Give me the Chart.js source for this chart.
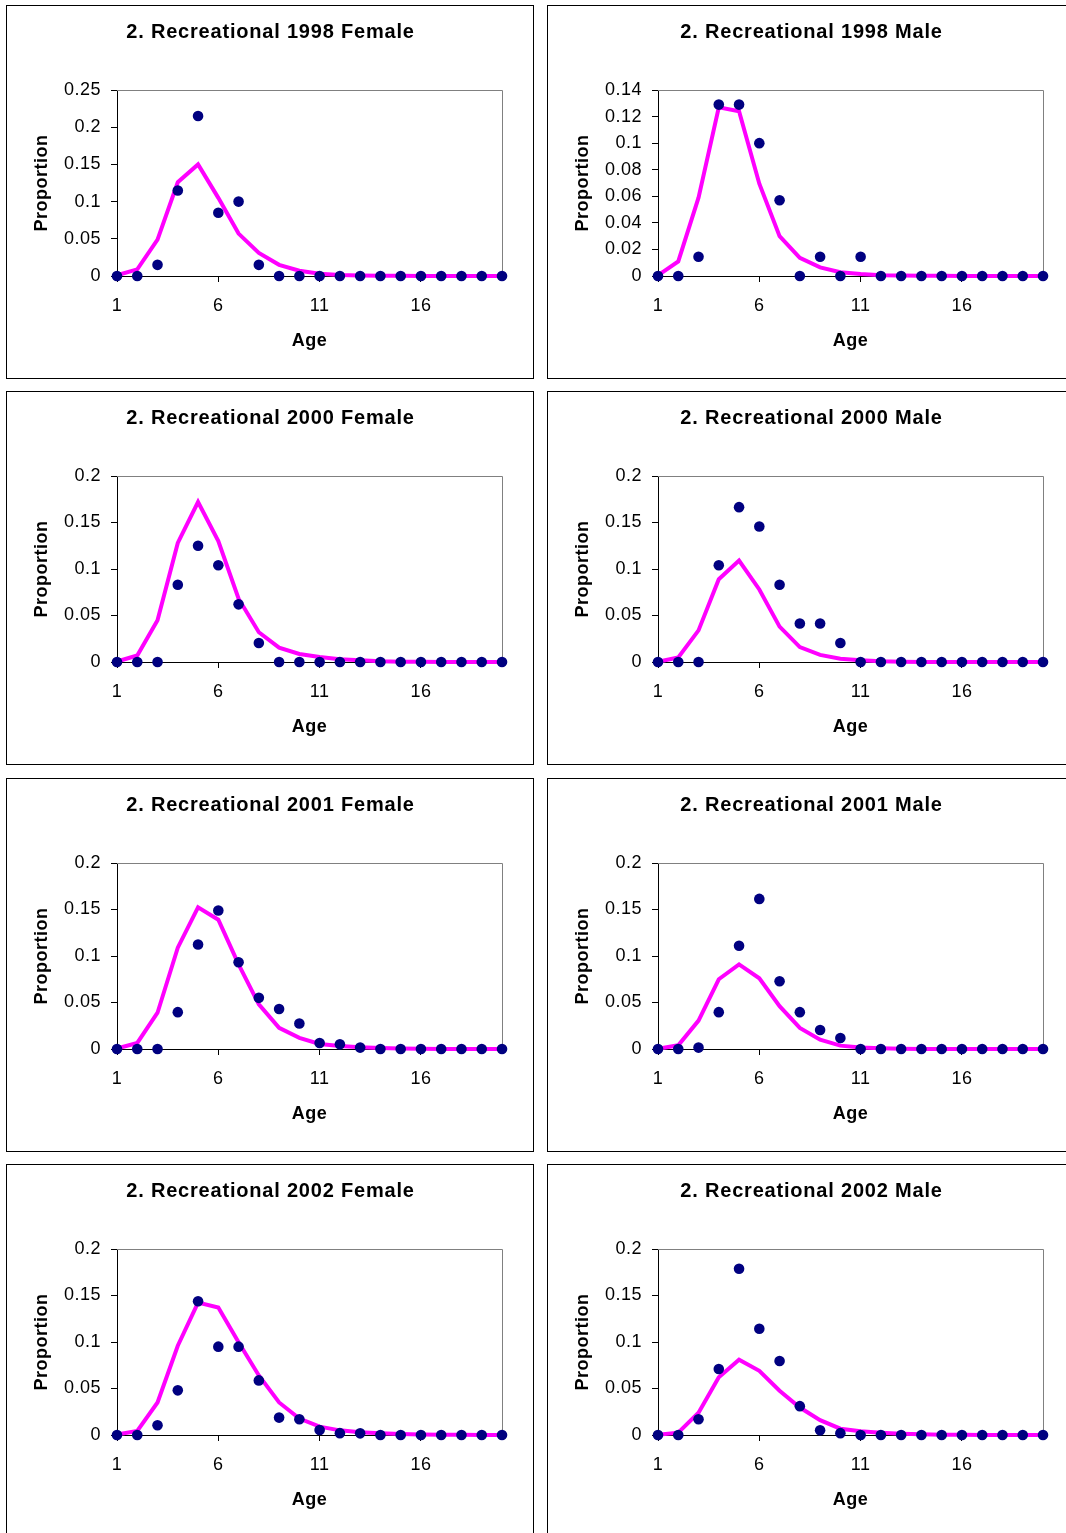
<!DOCTYPE html>
<html>
<head>
<meta charset="utf-8">
<title>Recreational age composition</title>
<script src="https://cdn.jsdelivr.net/npm/chart.js@4/dist/chart.umd.min.js"></script>
<style>
  html, body { margin: 0; padding: 0; background: #fff; overflow: hidden; width: 1066px; height: 1533px; }
  .panel { position: absolute; box-sizing: border-box; width: 528px; height: 374px; border: 1px solid #000; background: #fff; }
  .panel canvas { position: absolute; left: 0; top: 0; }
</style>
</head>
<body>
<script>
// Ages on the x axis and the labelled ticks
const ages = [1, 2, 3, 4, 5, 6, 7, 8, 9, 10, 11, 12, 13, 14, 15, 16, 17, 18, 19, 20];
const xTicks = [1, 6, 11, 16];

// Y tick sets
const yTicks025 = [0, 0.05, 0.1, 0.15, 0.2, 0.25];
const yTicks014 = [0, 0.02, 0.04, 0.06, 0.08, 0.1, 0.12, 0.14];
const yTicks020 = [0, 0.05, 0.1, 0.15, 0.2];

// Observed proportions at age (dots) and fitted proportions (line)
const obs1998F = [0, 0, 0.015, 0.115, 0.215, 0.085, 0.1, 0.015, 0, 0, 0, 0, 0, 0, 0, 0, 0, 0, 0, 0];
const fit1998F = [0.001, 0.009, 0.049, 0.126, 0.150, 0.105, 0.057, 0.031, 0.015, 0.007, 0.003, 0.0015, 0.0008, 0.0004, 0.0002, 0.0001, 0.0001, 0, 0, 0];

const obs1998M = [0, 0, 0.0145, 0.129, 0.129, 0.1, 0.057, 0, 0.0145, 0, 0.0145, 0, 0, 0, 0, 0, 0, 0, 0, 0];
const fit1998M = [0.0005, 0.011, 0.059, 0.127, 0.124, 0.0695, 0.030, 0.0136, 0.0065, 0.0028, 0.0015, 0.0006, 0.0003, 0.0001, 0.0001, 0, 0, 0, 0, 0];

const obs2000F = [0, 0, 0, 0.083, 0.125, 0.104, 0.062, 0.0205, 0, 0, 0, 0, 0, 0, 0, 0, 0, 0, 0, 0];
const fit2000F = [0.0005, 0.007, 0.045, 0.128, 0.172, 0.130, 0.068, 0.032, 0.0155, 0.0086, 0.0054, 0.003, 0.0018, 0.0008, 0.0004, 0.0002, 0.0001, 0.0001, 0, 0];

const obs2000M = [0, 0, 0, 0.104, 0.1665, 0.1457, 0.083, 0.0414, 0.0414, 0.0205, 0, 0, 0, 0, 0, 0, 0, 0, 0, 0];
const fit2000M = [0.0003, 0.005, 0.034, 0.089, 0.109, 0.078, 0.038, 0.016, 0.0076, 0.0036, 0.0018, 0.0007, 0.0003, 0.0001, 0.0001, 0, 0, 0, 0, 0];

const obs2001F = [0, 0, 0, 0.0396, 0.1124, 0.149, 0.0933, 0.055, 0.043, 0.0274, 0.0065, 0.005, 0.0015, 0, 0, 0, 0, 0, 0, 0];
const fit2001F = [0.0005, 0.0065, 0.039, 0.109, 0.1524, 0.139, 0.091, 0.048, 0.0227, 0.012, 0.0054, 0.0032, 0.0018, 0.001, 0.0005, 0.0003, 0.0001, 0.0001, 0, 0];

const obs2001M = [0, 0, 0.0015, 0.0396, 0.111, 0.1614, 0.0728, 0.0396, 0.0205, 0.0119, 0, 0, 0, 0, 0, 0, 0, 0, 0, 0];
const fit2001M = [0.0003, 0.004, 0.0306, 0.075, 0.091, 0.076, 0.046, 0.0227, 0.010, 0.0036, 0.0015, 0.0007, 0.0003, 0.0001, 0.0001, 0, 0, 0, 0, 0];

const obs2002F = [0, 0, 0.0105, 0.048, 0.1438, 0.095, 0.095, 0.0587, 0.0187, 0.0169, 0.0054, 0.002, 0.0018, 0, 0, 0, 0, 0, 0, 0];
const fit2002F = [0.0005, 0.0043, 0.035, 0.096, 0.1423, 0.137, 0.0998, 0.064, 0.035, 0.0177, 0.009, 0.005, 0.0029, 0.0018, 0.001, 0.0006, 0.0003, 0.0002, 0.0001, 0.0001];

const obs2002M = [0, 0, 0.0169, 0.071, 0.1787, 0.1142, 0.0796, 0.031, 0.005, 0.002, 0, 0, 0, 0, 0, 0, 0, 0, 0, 0];
const fit2002M = [0.0002, 0.0025, 0.024, 0.062, 0.081, 0.069, 0.0476, 0.0295, 0.0159, 0.0068, 0.004, 0.0025, 0.0014, 0.0007, 0.0003, 0.0002, 0.0001, 0, 0, 0];

const panelTitles = [
  '2. Recreational 1998 Female', '2. Recreational 1998 Male',
  '2. Recreational 2000 Female', '2. Recreational 2000 Male',
  '2. Recreational 2001 Female', '2. Recreational 2001 Male',
  '2. Recreational 2002 Female', '2. Recreational 2002 Male'
];
const panelObs = [obs1998F, obs1998M, obs2000F, obs2000M, obs2001F, obs2001M, obs2002F, obs2002M];
const panelFit = [fit1998F, fit1998M, fit2000F, fit2000M, fit2001F, fit2001M, fit2002F, fit2002M];
const panelYTicks = [yTicks025, yTicks014, yTicks020, yTicks020, yTicks020, yTicks020, yTicks020, yTicks020];

const FONT = '"Liberation Sans", Arial, Helvetica, sans-serif';
const CW = 526, CH = 372;

// Gray frame on the top/right of the plot area, and the bold panel heading
const framePlugin = {
  id: 'frame',
  beforeDraw(chart) { chart.ctx.letterSpacing = '0.5px'; },
  beforeDatasetsDraw(chart) {
    const { ctx, chartArea: a } = chart;
    ctx.save();
    ctx.strokeStyle = '#808080';
    ctx.lineWidth = 1;
    ctx.beginPath();
    ctx.moveTo(a.left, a.top + 0.5);
    ctx.lineTo(a.right + 0.5, a.top + 0.5);
    ctx.lineTo(a.right + 0.5, a.bottom);
    ctx.stroke();
    ctx.restore();
  },
  afterDraw(chart) {
    const ctx = chart.ctx;
    ctx.save();
    ctx.letterSpacing = '0.8px';
    ctx.font = 'bold 20px ' + FONT;
    ctx.fillStyle = '#000';
    ctx.textAlign = 'center';
    ctx.textBaseline = 'alphabetic';
    ctx.fillText(chart.options.plugins.frame.text, chart.width / 2 + 0.5, 32);
    ctx.restore();
  }
};

function fmt(v) { return String(+Number(v).toFixed(4)); }

panelTitles.forEach((title, i) => {
  const col = i % 2, row = Math.floor(i / 2);
  const div = document.createElement('div');
  div.className = 'panel';
  div.style.left = (col === 0 ? 6 : 547) + 'px';
  div.style.top = Math.round(5 + row * 386.3) + 'px';
  const cv = document.createElement('canvas');
  cv.width = CW; cv.height = CH;
  cv.style.width = CW + 'px'; cv.style.height = CH + 'px';
  div.appendChild(cv);
  document.body.appendChild(div);

  const yTicks = panelYTicks[i];
  new Chart(cv, {
    type: 'line',
    data: {
      datasets: [
        {
          label: 'Observed',
          data: ages.map((a, k) => ({ x: a, y: panelObs[i][k] })),
          showLine: false,
          pointRadius: 5.3,
          pointBackgroundColor: '#000080',
          pointBorderColor: '#000080',
          pointBorderWidth: 0,
          clip: false
        },
        {
          label: 'Predicted',
          data: ages.map((a, k) => ({ x: a, y: panelFit[i][k] })),
          borderColor: '#FF00FF',
          borderWidth: 4,
          pointRadius: 0,
          tension: 0,
          clip: false
        }
      ]
    },
    options: {
      responsive: false,
      animation: false,
      events: [],
      layout: { autoPadding: false, padding: { top: 84, right: CW - 495, bottom: 0, left: 0 } },
      plugins: {
        legend: { display: false },
        tooltip: { enabled: false },
        title: { display: false },
        frame: { text: title }
      },
      scales: {
        x: {
          type: 'linear',
          min: 1, max: 20,
          afterBuildTicks(s) { s.ticks = xTicks.map(v => ({ value: v })); },
          afterFit(s) { s.height = CH - 270; },
          grid: { display: true, drawOnChartArea: false, drawTicks: true, tickLength: 6, color: '#000', lineWidth: 1 },
          border: { display: true, color: '#000', width: 1 },
          ticks: { color: '#000', padding: 13, maxRotation: 0, autoSkip: false, font: { family: FONT, size: 18 }, callback: v => fmt(v) },
          title: { display: true, text: 'Age', color: '#000', font: { family: FONT, size: 18, weight: 'bold' }, padding: { top: 0, bottom: 26 } }
        },
        y: {
          type: 'linear',
          min: 0, max: yTicks[yTicks.length - 1],
          afterBuildTicks(s) { s.ticks = yTicks.map(v => ({ value: v })); },
          afterFit(s) { s.width = 110; },
          grid: { display: true, drawOnChartArea: false, drawTicks: true, tickLength: 6, color: '#000', lineWidth: 1 },
          border: { display: true, color: '#000', width: 1 },
          ticks: { color: '#000', padding: 10, autoSkip: false, font: { family: FONT, size: 18 }, callback: v => fmt(v) },
          title: { display: true, text: 'Proportion', color: '#000', font: { family: FONT, size: 18, weight: 'bold' }, padding: { top: 24, bottom: 0 } }
        }
      }
    },
    plugins: [framePlugin]
  });
});
</script>
</body>
</html>
